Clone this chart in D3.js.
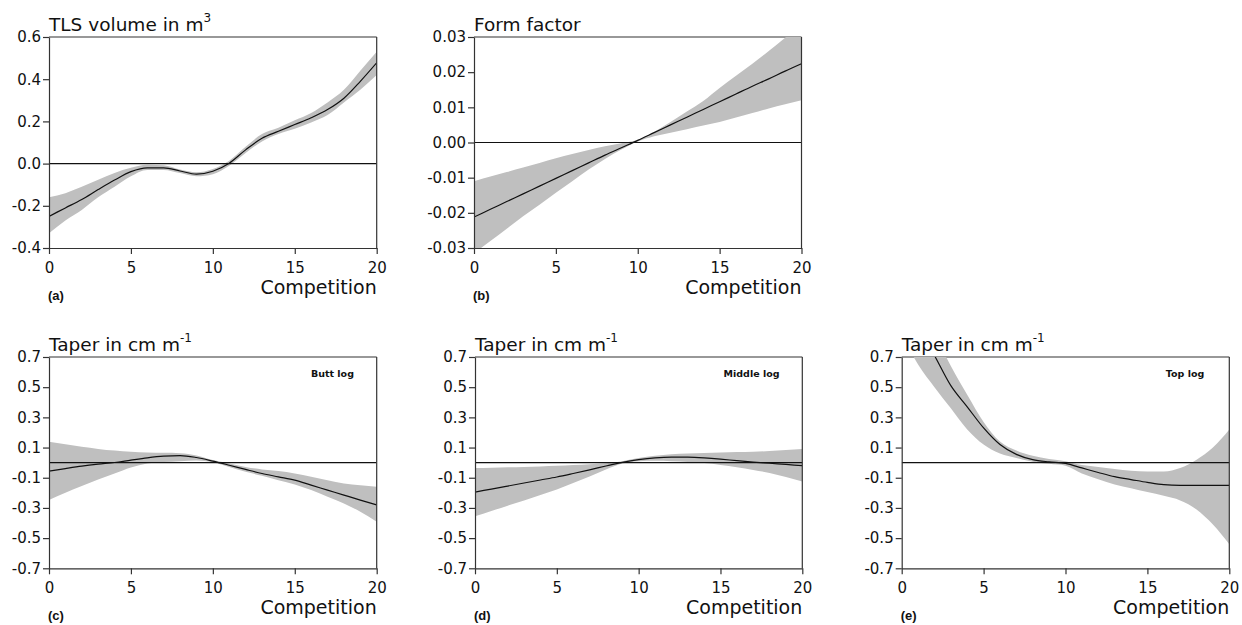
<!DOCTYPE html>
<html>
<head>
<meta charset="utf-8">
<script src="https://cdn.jsdelivr.net/npm/d3@7"></script>
<style>
  body { margin: 0; background: #fff; }
  svg text { font-family: "DejaVu Sans", sans-serif; fill: #111; }
</style>
</head>
<body>
<svg id="chart" width="1242" height="625"></svg>
<script>
// competition index, shared x values of every panel
const competition = [0, 1, 2, 3, 4, 5, 6, 7, 8, 9, 10, 11, 12, 13, 14, 15, 16, 17, 18, 19, 20]
const xTicks = [0, 5, 10, 15, 20]

// (a) TLS volume in m3
const volFit = [-0.25, -0.21, -0.17, -0.123, -0.078, -0.038, -0.02, -0.02, -0.035, -0.05, -0.036, 0.002, 0.065, 0.12, 0.153, 0.185, 0.217, 0.256, 0.31, 0.39, 0.478]
const volLower = [-0.33, -0.27, -0.22, -0.16, -0.11, -0.06, -0.03, -0.03, -0.045, -0.06, -0.05, -0.01, 0.05, 0.105, 0.14, 0.165, 0.195, 0.23, 0.29, 0.35, 0.42]
const volUpper = [-0.16, -0.14, -0.11, -0.076, -0.044, -0.02, -0.005, -0.008, -0.028, -0.041, -0.025, 0.014, 0.08, 0.14, 0.17, 0.205, 0.24, 0.29, 0.35, 0.44, 0.53]
const volTicks = [-0.4, -0.2, 0.0, 0.2, 0.4, 0.6]

// (b) form factor
const ffFit = [-0.0212, -0.019, -0.0168, -0.0146, -0.0124, -0.0102, -0.008, -0.0058, -0.0036, -0.0015, 0.0006, 0.0028, 0.005, 0.0072, 0.0094, 0.0116, 0.0138, 0.016, 0.0181, 0.0203, 0.0224]
const ffLower = [-0.0315, -0.028, -0.0245, -0.021, -0.0177, -0.0143, -0.011, -0.0077, -0.0047, -0.002, 0.0003, 0.0018, 0.0028, 0.0038, 0.0048, 0.0058, 0.0071, 0.0084, 0.0097, 0.0109, 0.012]
const ffUpper = [-0.011, -0.0097, -0.0084, -0.0071, -0.0058, -0.0045, -0.0033, -0.0021, -0.0011, -0.0002, 0.0008, 0.003, 0.0058, 0.0088, 0.0118, 0.0155, 0.019, 0.0224, 0.026, 0.0298, 0.0335]
const ffTicks = [-0.03, -0.02, -0.01, 0.0, 0.01, 0.02, 0.03]

// (c) taper, butt log
const buttFit = [-0.056, -0.039, -0.023, -0.01, 0.001, 0.017, 0.032, 0.043, 0.047, 0.034, 0.01, -0.017, -0.045, -0.072, -0.094, -0.116, -0.149, -0.182, -0.215, -0.248, -0.28]
const buttLower = [-0.248, -0.2, -0.155, -0.111, -0.072, -0.032, -0.006, 0.004, 0.01, 0.015, 0.003, -0.028, -0.061, -0.087, -0.116, -0.144, -0.182, -0.226, -0.27, -0.325, -0.391]
const buttUpper = [0.138, 0.122, 0.105, 0.091, 0.08, 0.072, 0.067, 0.065, 0.063, 0.048, 0.017, -0.006, -0.028, -0.045, -0.056, -0.072, -0.094, -0.116, -0.138, -0.149, -0.16]

// (d) taper, middle log
const middleFit = [-0.195, -0.175, -0.155, -0.135, -0.115, -0.095, -0.072, -0.048, -0.022, 0.002, 0.02, 0.032, 0.037, 0.036, 0.031, 0.023, 0.013, 0.004, -0.004, -0.012, -0.02]
const middleLower = [-0.355, -0.32, -0.285, -0.25, -0.215, -0.178, -0.135, -0.092, -0.045, -0.006, 0.01, 0.012, 0.01, 0.005, -0.003, -0.015, -0.03, -0.048, -0.068, -0.095, -0.125]
const middleUpper = [-0.035, -0.033, -0.031, -0.028, -0.025, -0.021, -0.016, -0.01, -0.004, 0.01, 0.03, 0.045, 0.055, 0.06, 0.064, 0.067, 0.07, 0.072, 0.077, 0.083, 0.09]

// (e) taper, top log
const topFit = [1.12, 0.9, 0.71, 0.51, 0.37, 0.23, 0.12, 0.055, 0.02, 0.005, -0.005, -0.035, -0.065, -0.093, -0.112, -0.131, -0.146, -0.15, -0.15, -0.15, -0.15]
const topLower = [0.85, 0.65, 0.5, 0.36, 0.22, 0.12, 0.06, 0.03, 0.006, -0.008, -0.02, -0.072, -0.11, -0.145, -0.17, -0.195, -0.22, -0.25, -0.31, -0.41, -0.54]
const topUpper = [1.35, 1.1, 0.86, 0.64, 0.45, 0.27, 0.14, 0.08, 0.045, 0.025, 0.01, -0.015, -0.028, -0.042, -0.054, -0.058, -0.058, -0.035, 0.02, 0.1, 0.22]
const taperTicks = [-0.7, -0.5, -0.3, -0.1, 0.1, 0.3, 0.5, 0.7]

const svg = d3.select('#chart')

const panels = [
  {id: 'a', box: [49, 376.7, 37, 248], domain: [-0.4, 0.6], ticks: volTicks, digits: 1,
    title: 'TLS volume in m', sup: '3', fit: volFit, lower: volLower, upper: volUpper},
  {id: 'b', box: [474, 801.5, 37, 248], domain: [-0.03, 0.03], ticks: ffTicks, digits: 2,
    title: 'Form factor', sup: null, fit: ffFit, lower: ffLower, upper: ffUpper},
  {id: 'c', box: [49, 376.7, 357, 568.3], domain: [-0.7, 0.7], ticks: taperTicks, digits: 1,
    title: 'Taper in cm m', sup: '-1', note: 'Butt log', noteX: 17.3, fit: buttFit, lower: buttLower, upper: buttUpper},
  {id: 'd', box: [475, 802.3, 357, 568.3], domain: [-0.7, 0.7], ticks: taperTicks, digits: 1,
    title: 'Taper in cm m', sup: '-1', note: 'Middle log', noteX: 16.9, fit: middleFit, lower: middleLower, upper: middleUpper},
  {id: 'e', box: [901.7, 1229.3, 357, 568.3], domain: [-0.7, 0.7], ticks: taperTicks, digits: 1,
    title: 'Taper in cm m', sup: '-1', note: 'Top log', noteX: 17.3, fit: topFit, lower: topLower, upper: topUpper}
]

function drawPanel (p) {
  let [left, right, top, bottom] = p.box
  let x = d3.scaleLinear().domain([0, 20]).range([left, right])
  let y = d3.scaleLinear().domain(p.domain).range([bottom, top])
  let g = svg.append('g').attr('class', 'panel-' + p.id)

  g.append('clipPath').attr('id', 'clip-' + p.id)
    .append('rect').attr('x', left).attr('y', top).attr('width', right - left).attr('height', bottom - top)

  // top border first, the band may cover it
  g.append('line').attr('x1', left).attr('x2', right).attr('y1', top).attr('y2', top)
    .attr('stroke', '#333').attr('stroke-width', 1.2)

  let plot = g.append('g').attr('clip-path', 'url(#clip-' + p.id + ')')

  let band = d3.area()
    .x((d, i) => x(competition[i]))
    .y0((d, i) => y(p.lower[i]))
    .y1((d, i) => y(p.upper[i]))
    .curve(d3.curveMonotoneX)
  plot.append('path').datum(p.fit).attr('d', band).attr('fill', '#bfbfbf')

  // zero reference
  plot.append('line').attr('x1', left).attr('x2', right).attr('y1', y(0)).attr('y2', y(0))
    .attr('stroke', '#111').attr('stroke-width', 1.2)

  let line = d3.line()
    .x((d, i) => x(competition[i]))
    .y(d => y(d))
    .curve(d3.curveMonotoneX)
  plot.append('path').datum(p.fit).attr('d', line)
    .attr('fill', 'none').attr('stroke', '#111').attr('stroke-width', 1.2)

  // right border
  g.append('line').attr('x1', right).attr('x2', right).attr('y1', top).attr('y2', bottom)
    .attr('stroke', '#333').attr('stroke-width', 1.2)

  let yAxis = d3.axisLeft(y).tickValues(p.ticks).tickSize(6).tickSizeOuter(0).tickPadding(2)
    .tickFormat(d => d.toFixed(p.digits))
  let ya = g.append('g').attr('transform', 'translate(' + left + ',0)').call(yAxis)

  let xAxis = d3.axisBottom(x).tickValues(xTicks).tickSize(6).tickSizeOuter(0).tickPadding(8)
    .tickFormat(d3.format('d'))
  let xa = g.append('g').attr('transform', 'translate(0,' + bottom + ')').call(xAxis)

  for (let a of [ya, xa]) {
    a.attr('font-family', null).attr('font-size', null)
    a.select('.domain').attr('stroke', '#333').attr('stroke-width', 1.2)
    a.selectAll('.tick line').attr('stroke', '#333').attr('stroke-width', 1.2)
    a.selectAll('.tick text').style('font-size', '15px').attr('fill', '#111')
  }

  let title = g.append('text').attr('x', left).attr('y', top - 6.5).style('font-size', '18.5px')
  title.append('tspan').text(p.title)
  if (p.sup) {
    title.append('tspan').attr('dy', -9).style('font-size', '12px').text(p.sup)
  }

  g.append('text').attr('x', right).attr('y', bottom + 45.5).attr('text-anchor', 'end')
    .style('font-size', '19px').text('Competition')

  g.append('text').attr('x', left - 1).attr('y', bottom + 51.5)
    .style('font-family', '"Liberation Sans", Arial, sans-serif').style('font-size', '13px')
    .style('font-weight', 'bold').text('(' + p.id + ')')

  if (p.note) {
    g.append('text').attr('x', x(p.noteX)).attr('y', y(0.565)).attr('text-anchor', 'middle')
      .style('font-size', '9.5px').style('font-weight', 'bold').text(p.note)
  }
}

panels.forEach(drawPanel)
</script>
</body>
</html>
